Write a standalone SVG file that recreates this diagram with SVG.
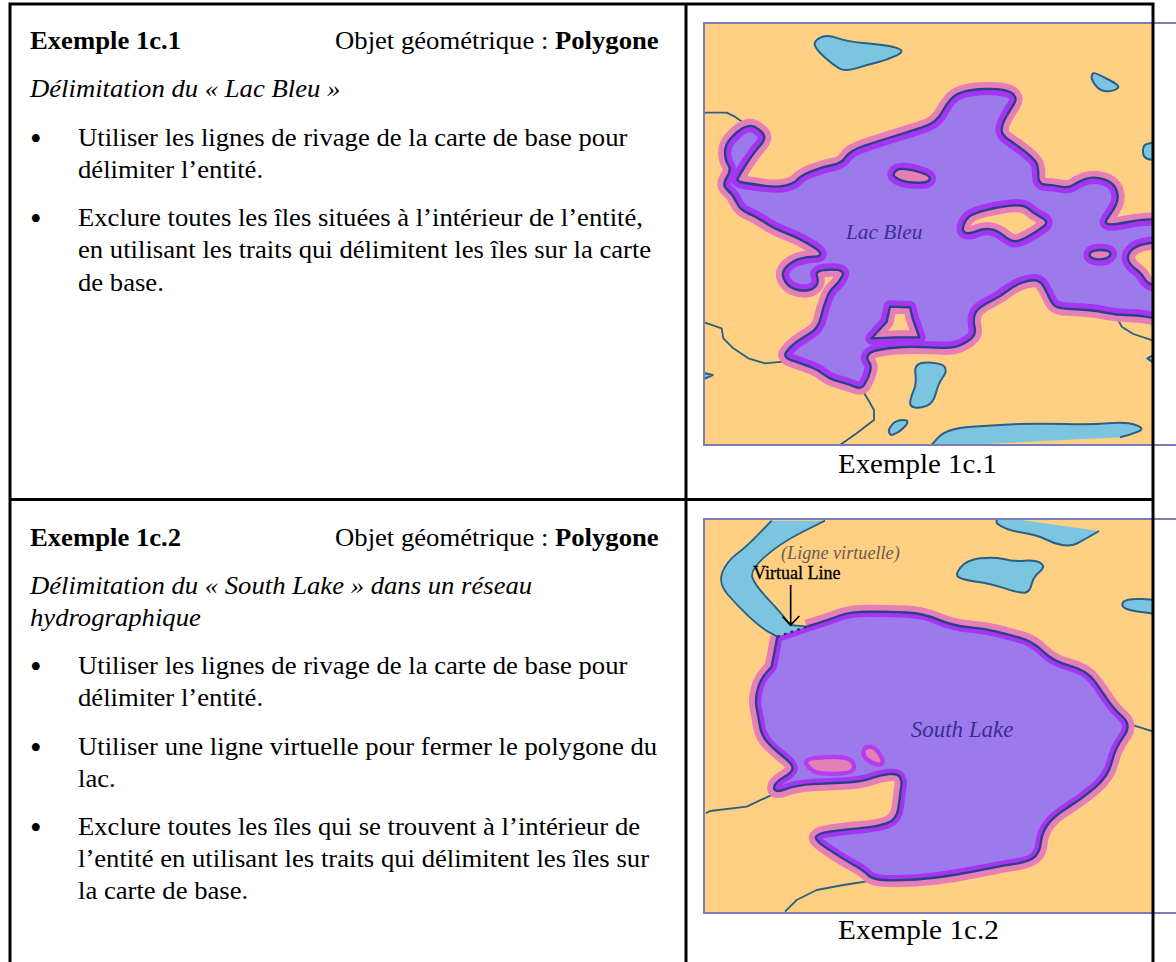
<svg xmlns="http://www.w3.org/2000/svg" xmlns:xlink="http://www.w3.org/1999/xlink" width="1176" height="962" viewBox="0 0 1176 962">
<style>
text{font-family:"Liberation Serif","Times New Roman",serif;fill:#000}
.t{font-size:25px}
.c{font-size:27px}
.b{font-weight:bold}
.i{font-style:italic}
.bu{font-size:33px}
.lk{fill:#7cc5e0;stroke:#2a5f85;stroke-width:6;stroke-linejoin:round}
.rv{fill:none;stroke:#2a6080;stroke-width:5.5;stroke-linejoin:round}
.pink{fill:#ffd083;stroke:#e67eb8;stroke-width:42;stroke-linejoin:round}
.fillw{fill:#9d7aeb;fill-rule:evenodd;stroke:none}
.band{fill:none;stroke:#a436f0;stroke-width:38;stroke-linejoin:round}
.line{fill:none;stroke:#2a3f88;stroke-width:7;stroke-linejoin:round}
.frame{fill:none;stroke:#7b7bb8;stroke-width:2}
.bd{stroke:#000;stroke-width:3;fill:none}
.ln{font-style:italic;fill:#3a2f8f}
</style>
<defs>
<filter id="soft" x="-5%" y="-5%" width="110%" height="110%"><feGaussianBlur stdDeviation="1.2"/></filter>
<path id="lac" d="M157.500,385 Q175,375 187.500,378.500 200,382 216,397 232,412 211,436 190,460 167.500,495 145,530 142.500,537.500 140,545 165,549 190,553 225,557.500 260,562 285,557 310,552 322.500,538.500 335,525 367.500,512.500 400,500 427.500,495 455,490 467.500,471 480,452 520,438.500 560,425 600,412.500 640,400 680,387.500 720,375 735,362.500 750,350 760,330 770,310 785,295 800,280 825,274 850,268 885,267 920,266 942.500,270.500 965,275 971.500,285 982,297 971,313.500 960,330 947.500,352.500 935,375 935,390 935,405 957.500,420 980,435 1002.500,452.500 1025,470 1035,482.500 1045,495 1045,522.500 1043,553 1066.500,554 1090,555 1112.500,560 1135,565 1150,555 1165,545 1185,537.500 1205,530 1230,535 1255,540 1267.500,552.500 1280,565 1282.500,582.500 1285,600 1277.500,615 1270,630 1257.500,647.500 1240,670 1255,672.500 1270,675 1305,667.500 1340,660 1367.500,659 1395,658 1412.500,656.500 L1430,655 1430,955 1395,955 1367.500,950 Q1340,945 1310,945 1280,945 1250,938.500 1220,932 1190,930 1160,928 1132.500,926.500 1105,925 1095,917.500 1085,910 1077.500,892.500 1070,875 1060,858.500 1050,842 1035,841 1020,840 997.500,847.500 975,855 952.500,872.500 930,890 905,902.500 880,915 867.500,925 855,935 852.500,950 850,965 854,982.500 858,1000 846.500,1012.500 835,1025 812.500,1035 790,1045 755,1043.500 720,1042 685,1041 650,1040 620,1042.500 590,1045 565,1050 540,1055 535,1065 528,1075 536.500,1085 545,1095 540,1115 535,1135 525,1150 517,1170 493.500,1160 470,1150 445,1144 420,1138 402.500,1124 385,1110 365,1102.500 345,1095 312.500,1083.500 277,1073 288.500,1056.500 300,1040 317.500,1027.500 335,1015 360,1000 385,985 392.500,952.500 400,920 410,895 420,870 432.500,860 445,850 455,831 470,808 422.500,809 375,810 380,825 385,840 382.500,847.500 380,860 365,867.500 350,875 325,870 300,865 287.500,847.500 275,830 280,815 285,800 307.500,786 330,772 370,770 412,768 371,741.500 330,715 290,700 250,685 225,667.500 200,650 175,640 150,630 140,607.500 130,585 112.500,570 95,555 110,532.500 125,510 115,495 105,480 105,457.500 105,435 122.500,415 140,395 157.500,385 Z M617.500,512.500 Q625,505 647.500,507.500 670,510 692.500,517.500 715,525 718.500,532.500 722,540 711,545 700,550 670,547.500 640,545 626,537.500 612,530 611,525 610,520 617.500,512.500 Z M820,677.500 Q825,660 837.500,650 850,640 885,631 920,622 960,617 1000,612 1015,626 1030,640 1054,652.500 1080,665 1060,680 1040,695 1012.500,710 985,725 972.500,723.500 960,722 940,706 920,690 900,687.500 880,685 860,693.500 840,702 827.500,698.500 815,695 820,677.500 Z M1202,757.500 Q1210,750 1232,750 1255,750 1260,757.500 1265,765 1255,771.500 1245,778 1227.500,778 1210,778 1202.500,771.500 1195,765 1202,757.500 Z M1410,725 L1375,730 Q1340,735 1325,750 1310,765 1315,780 1320,795 1337.500,807.500 1355,820 1362.500,835 1370,850 1390,855 L1410,860 Z M600,920 L660,922 668,955 688,1012 620,1012 545,1015 590,965 Z"/>
<clipPath id="lacIn"><use xlink:href="#lac" clip-rule="evenodd"/></clipPath>
<path id="south" d="M350,380 L385,369 Q420,358 450,346.500 480,335 540,335 600,335 650,337.500 700,340 745,359 790,378 835,381.500 880,385 920,395 960,405 995,415 1030,425 1060,455 1090,485 1140,497.500 1190,510 1215,545 1240,580 1255,602.500 1270,625 1297,650 1326,675 1300.500,710 1275,745 1265,787.500 1255,830 1212.500,865 1170,900 1130,925 1090,950 1072.500,975 1055,1000 1052.500,1027.500 1050,1055 1035,1070 1020,1085 970,1092.500 920,1100 860,1112.500 800,1125 740,1132.500 680,1140 615,1141 550,1142 535,1126 520,1110 487.500,1092.500 455,1075 415,1047.500 372,1020 378.500,1010 385,1000 417.500,995 450,990 505,985 560,980 590,970 620,960 625,925 630,890 632.500,867.500 638,845 630,832.500 625,820 597.500,822.500 570,825 542.500,835 515,845 467.500,847.500 420,850 370,852.500 320,855 287.500,867.500 255,880 252.500,865 250,850 280,832.500 310,815 307.500,802.500 305,790 282.500,772.500 260,755 237.500,732.500 215,710 210,680 205,650 200,625 195,600 202.500,570 210,540 227.500,520 L245,500 262,410"/>
<clipPath id="southIn"><use xlink:href="#south"/></clipPath>
<clipPath id="m1"><rect x="45" y="70" width="1345" height="1265"/></clipPath>
<clipPath id="m2"><rect x="45" y="58" width="1345" height="1181"/></clipPath>
</defs>

<g id="map-1">
<rect x="704" y="23" width="449" height="422" fill="#ffd083"/>
<g clip-path="url(#m1)" transform="translate(690,0) scale(.33333)">
<g filter="url(#soft)">
<path class="lk" d="M389,113.500 Q410,102 440,113.500 470,125 530,130 590,135 617,143 650,152 620,166 590,180 560,187.500 530,195 497.500,205 465,215 447.500,205 430,195 407.500,175 385,155 376.500,140 368,125 389,113.500 Z"/>
<path class="lk" d="M1210,219.500 Q1215,217 1252,237 1295,258 1282,265 1275,272 1255,273.500 1235,275 1222.500,262.500 1210,250 1205,236 1205,222 1210,219.500 Z"/>
<path class="lk" d="M1400,428 L1380,430 Q1360,432 1359,448 1358,465 1364,471 1370,478 1385,479 L1400,480 Z"/>
<path class="lk" d="M716,1087.500 Q760,1090 765,1102.500 772,1115 758,1132.500 745,1150 737.500,1180 730,1210 710,1217.500 690,1225 675,1222.500 657,1220 661,1202.500 665,1185 672.500,1167.500 680,1150 676,1117.500 672,1085 716,1087.500 Z"/>
<path class="lk" d="M602,1280 Q610,1265 630,1261 650,1258 652,1264 655,1270 640,1284 625,1298 615,1301 605,1308 600,1302 592,1295 602,1280 Z"/>
<path class="lk" d="M720,1340 L745,1312 Q770,1285 845,1280 920,1275 985,1272 1050,1270 1125,1272 1200,1275 1255,1270 1310,1265 1337,1275 1368,1285 1344,1295 1320,1305 1290,1312 1260,1320 L1180,1345 700,1345 Z"/>
<path class="lk" d="M1400,1060 L1372,1075 1400,1095 Z"/>
<path class="lk" d="M40,1118 L68,1125 40,1138 Z"/>
<path class="rv" d="M45,338 L110,338 135,350 170,375"/>
<path class="rv" d="M45,968 L95,985 100,1015 130,1045 175,1075 225,1090 280,1085"/>
<path class="rv" d="M515,1168 L535,1200 552,1230 552,1260 500,1300 450,1335"/>
<path class="rv" d="M1280,950 L1295,980 1330,1002 1390,1022"/>
<use xlink:href="#lac" class="pink" style="fill-rule:evenodd"/>
<use xlink:href="#lac" class="fillw"/>
<g clip-path="url(#lacIn)"><use xlink:href="#lac" class="band"/></g>
<use xlink:href="#lac" class="line"/>
</g>
<text x="468" y="718" font-size="64" class="ln">Lac Bleu</text>
</g>
<path class="frame" d="M1176,23 H704 V445 H1176"/>
</g>

<g id="map-2">
<rect x="704" y="519" width="449" height="394" fill="#ffd083"/>
<g clip-path="url(#m2)" transform="translate(690,500) scale(.33333)">
<g filter="url(#soft)">
<path class="lk" d="M920,50 L920,70 Q945,90 992,97 1040,105 1065,117 1090,130 1117,135 1145,140 1167,127 1190,115 1227,93 1265,72 L1250,50 Z"/>
<path class="lk" d="M812,202 Q830,180 870,175 910,170 940,177 970,185 1005,182 1040,180 1053,190 1068,200 1049,215 1030,230 1025,252 1020,275 1005,278 990,280 945,265 900,250 860,245 820,240 807,232 793,225 812,202 Z"/>
<path class="lk" d="M1400,300 L1355,297 Q1310,295 1300,306 1292,318 1306,325 1320,332 1360,337 L1400,342 Z"/>
<circle cx="1389" cy="530" r="4" fill="#2a5f85"/>
<path class="rv" d="M1326,675 L1390,695"/>
<path class="rv" d="M48,940 L60,933 170,920 255,880"/>
<path class="rv" d="M285,1235 L320,1200 380,1170 460,1155 545,1142"/>
<use xlink:href="#south" class="pink"/>
<path d="M245,62 L405,62 337,96 Q270,130 225,170 180,210 187,232 195,255 232,295 270,335 285,355 L300,375 350,380 262,410 238,397 Q215,385 177,350 140,315 112,282 85,250 97,217 110,185 140,162 170,140 207,101 Z" fill="#7cc5e0"/>
<path class="rv" d="M245,62 L207,101 Q170,140 140,162 110,185 97,217 85,250 112,282 140,315 177,350 215,385 238,397 L262,410"/>
<path class="rv" d="M405,62 L337,96 Q270,130 225,170 180,210 187,232 195,255 232,295 270,335 285,355 L300,375 350,380"/>
<use xlink:href="#south" style="fill:#9d7aeb"/>
<g clip-path="url(#southIn)"><use xlink:href="#south" class="band" style="stroke-width:32"/><path d="M262,410 L350,380" class="band" style="stroke-width:32"/></g>
<use xlink:href="#south" class="line"/>
<path d="M412,778 Q470,775 480,787 490,800 482,807 475,815 430,815 385,815 372,807 355,795 355,787 355,780 412,778 Z M542,747 Q555,750 566,770 578,790 564,787 550,785 537,775 525,765 527,755 530,745 542,747 Z" fill="#e67eb8" stroke="#b53cf0" stroke-width="26" stroke-linejoin="round" paint-order="stroke"/>
<path d="M262,410 L350,380" fill="none" stroke="#3a1f78" stroke-width="7" stroke-dasharray="8 13"/>
</g>
<path d="M302,255 V372 M278,350 L302,375 328,348" fill="none" stroke="#000" stroke-width="5"/>
<text x="662" y="711" font-size="69" class="ln">South Lake</text>
</g>
<text x="781" y="559" font-size="18.200" font-style="italic" style="fill:#6b5a50">(Ligne virtuelle)</text>
<text x="753" y="579" font-size="18" stroke="#000" stroke-width=".3">Virtual Line</text>
<path class="frame" d="M1176,519 H704 V913 H1176"/>
</g>

<g id="table">
<path class="bd" d="M10,962 V4 H1153 V962 M686,4 V962 M10,499.500 H1153"/>
</g>

<g id="cell-1">
<g transform="scale(1.067,1)">
<text class="t b" x="28.100" y="49">Exemple 1c.1</text>
<text class="t" x="314" y="49">Objet géométrique : <tspan class="b">Polygone</tspan></text>
<text class="t i" x="28.100" y="97">Délimitation du « Lac Bleu »</text>
<text class="t" x="73.100" y="146">Utiliser les lignes de rivage de la carte de base pour</text>
<text class="t" x="73.100" y="178">délimiter l’entité.</text>
<text class="t" x="73.100" y="226">Exclure toutes les îles situées à l’intérieur de l’entité,</text>
<text class="t" x="73.100" y="258">en utilisant les traits qui délimitent les îles sur la carte</text>
<text class="t" x="73.100" y="291">de base.</text>
</g>
<text class="bu" x="30" y="150">•</text>
<text class="bu" x="30" y="230">•</text>
<text class="c" x="838" y="473" textLength="159" lengthAdjust="spacingAndGlyphs">Exemple 1c.1</text>
</g>
<g id="cell-2">
<g transform="scale(1.067,1)">
<text class="t b" x="28.100" y="546">Exemple 1c.2</text>
<text class="t" x="314" y="546">Objet géométrique : <tspan class="b">Polygone</tspan></text>
<text class="t i" x="28.100" y="594">Délimitation du « South Lake » dans un réseau</text>
<text class="t i" x="28.100" y="626">hydrographique</text>
<text class="t" x="73.100" y="674">Utiliser les lignes de rivage de la carte de base pour</text>
<text class="t" x="73.100" y="706">délimiter l’entité.</text>
<text class="t" x="73.100" y="755">Utiliser une ligne virtuelle pour fermer le polygone du</text>
<text class="t" x="73.100" y="787">lac.</text>
<text class="t" x="73.100" y="835">Exclure toutes les îles qui se trouvent à l’intérieur de</text>
<text class="t" x="73.100" y="867">l’entité en utilisant les traits qui délimitent les îles sur</text>
<text class="t" x="73.100" y="899">la carte de base.</text>
</g>
<text class="bu" x="30" y="678">•</text>
<text class="bu" x="30" y="759">•</text>
<text class="bu" x="30" y="839">•</text>
<text class="c" x="838" y="939" textLength="161" lengthAdjust="spacingAndGlyphs">Exemple 1c.2</text>
</g>
</svg>
